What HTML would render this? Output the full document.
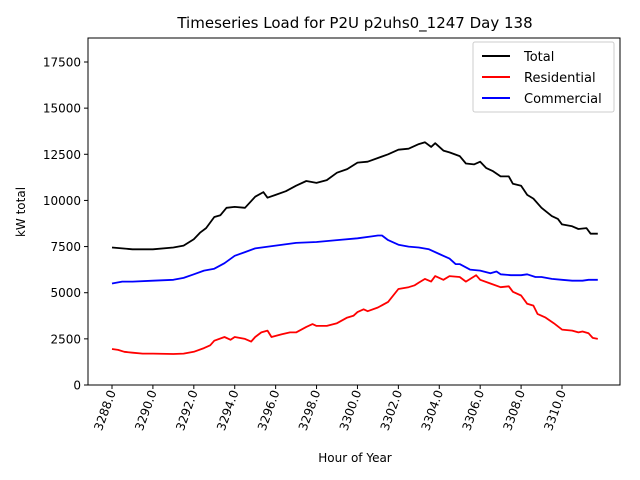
<!DOCTYPE html>
<html><head><meta charset="utf-8"><style>
body{margin:0;background:#fff;}
svg{display:block;font-family:"DejaVu Sans","Liberation Sans",sans-serif;}
</style></head><body>
<svg id="s" width="640" height="480" viewBox="0 0 640 480">
<rect width="640" height="480" fill="#fff"/>
<text x="355" y="28" font-size="15" text-anchor="middle">Timeseries Load for P2U p2uhs0_1247  Day 138</text>
<rect x="88" y="38" width="532" height="347" fill="none" stroke="#000" stroke-width="1"/>
<g id="ticks"></g>
<text x="355" y="462" font-size="12" text-anchor="middle">Hour of Year</text>
<text transform="translate(25,212) rotate(-90)" font-size="12" text-anchor="middle">kW total</text>
<g id="lines"></g>
<rect x="473" y="42" width="141" height="70" fill="#fff" stroke="#ccc" rx="2"/>
<line x1="482" y1="56" x2="510" y2="56" stroke="#000" stroke-width="2"/>
<text x="524" y="61" font-size="13">Total</text>
<line x1="482" y1="77" x2="510" y2="77" stroke="red" stroke-width="2"/>
<text x="524" y="82" font-size="13">Residential</text>
<line x1="482" y1="98" x2="510" y2="98" stroke="blue" stroke-width="2"/>
<text x="524" y="103" font-size="13">Commercial</text>
</svg>
<script>
var X=h=>112+(h-3288)*20.4545, Y=v=>385-v*(323/17500);
var t=document.getElementById('ticks'),s='';
for(var v=0;v<=17500;v+=2500){var y=Y(v);s+='<line x1="84" y1="'+y+'" x2="88" y2="'+y+'" stroke="#000"/><text x="81" y="'+(y+4.5)+'" font-size="12" text-anchor="end">'+v+'</text>';}
for(var h=3288;h<=3310;h+=2){var x=X(h);s+='<line x1="'+x+'" y1="385" x2="'+x+'" y2="389" stroke="#000"/><text transform="translate('+(x+4)+',392) rotate(-70)" font-size="12" text-anchor="end">'+h+'.0</text>';}
t.innerHTML=s;
var T=[[3288,7450],[3288.5,7400],[3289,7350],[3290,7350],[3291,7450],[3291.5,7550],[3292,7900],[3292.3,8250],[3292.6,8500],[3293,9100],[3293.3,9200],[3293.6,9600],[3294,9650],[3294.5,9600],[3295,10200],[3295.4,10450],[3295.6,10150],[3296,10300],[3296.5,10500],[3297,10800],[3297.5,11050],[3298,10950],[3298.5,11100],[3299,11500],[3299.5,11700],[3300,12050],[3300.5,12100],[3301,12300],[3301.5,12500],[3302,12750],[3302.5,12800],[3303,13050],[3303.3,13150],[3303.6,12900],[3303.8,13100],[3304.2,12700],[3304.5,12600],[3305,12400],[3305.3,12000],[3305.7,11950],[3306,12100],[3306.3,11750],[3306.6,11600],[3307,11300],[3307.4,11300],[3307.6,10900],[3308,10800],[3308.3,10300],[3308.6,10100],[3309,9600],[3309.5,9150],[3309.8,9000],[3310,8700],[3310.5,8600],[3310.8,8450],[3311.2,8500],[3311.4,8200],[3311.75,8200]];
var R=[[3288,1950],[3288.3,1900],[3288.6,1800],[3289,1750],[3289.5,1700],[3290,1700],[3291,1680],[3291.5,1700],[3292,1800],[3292.5,2000],[3292.8,2150],[3293,2400],[3293.5,2600],[3293.8,2450],[3294,2600],[3294.5,2500],[3294.8,2350],[3295,2600],[3295.3,2850],[3295.6,2950],[3295.8,2600],[3296.3,2750],[3296.7,2850],[3297,2850],[3297.5,3150],[3297.8,3300],[3298,3200],[3298.5,3200],[3299,3350],[3299.5,3650],[3299.8,3750],[3300,3950],[3300.3,4100],[3300.5,4000],[3301,4200],[3301.5,4500],[3302,5200],[3302.5,5300],[3302.8,5400],[3303,5550],[3303.3,5750],[3303.6,5600],[3303.8,5900],[3304.2,5700],[3304.5,5900],[3305,5850],[3305.3,5600],[3305.8,5950],[3306,5700],[3306.5,5500],[3307,5300],[3307.4,5350],[3307.6,5050],[3308,4850],[3308.3,4400],[3308.6,4300],[3308.8,3850],[3309.2,3650],[3309.6,3350],[3310,3000],[3310.5,2950],[3310.8,2850],[3311,2900],[3311.3,2800],[3311.5,2550],[3311.75,2500]];
var C=[[3288,5500],[3288.5,5600],[3289,5600],[3290,5650],[3291,5700],[3291.5,5800],[3292,6000],[3292.5,6200],[3293,6300],[3293.5,6600],[3294,7000],[3294.5,7200],[3295,7400],[3296,7550],[3297,7700],[3298,7750],[3299,7850],[3300,7950],[3300.7,8050],[3301,8100],[3301.2,8100],[3301.5,7850],[3302,7600],[3302.5,7500],[3303,7450],[3303.5,7350],[3304,7100],[3304.5,6850],[3304.8,6550],[3305,6550],[3305.5,6250],[3306,6200],[3306.5,6050],[3306.8,6150],[3307,6000],[3307.5,5950],[3308,5950],[3308.3,6000],[3308.7,5850],[3309,5850],[3309.5,5750],[3310,5700],[3310.5,5650],[3311,5650],[3311.3,5700],[3311.75,5700]];
function pl(d,c){return '<polyline fill="none" stroke="'+c+'" stroke-width="1.8" stroke-linejoin="round" points="'+d.map(p=>X(p[0]).toFixed(1)+','+Y(p[1]).toFixed(1)).join(' ')+'"/>';}
document.getElementById('lines').innerHTML=pl(T,'#000')+pl(R,'red')+pl(C,'blue');
</script>
</body></html>
